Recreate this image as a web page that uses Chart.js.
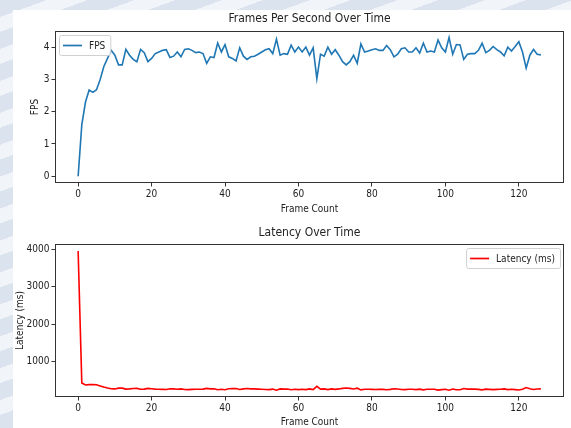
<!DOCTYPE html>
<html>
<head>
<meta charset="utf-8">
<script src="https://cdn.jsdelivr.net/npm/chart.js@4"></script>
<style>
  html, body { margin: 0; padding: 0; }
  body {
    width: 571px; height: 428px; overflow: hidden; position: relative;
    background: repeating-linear-gradient(160deg, #dbe4ee 0 16px, #f1f4f8 16px 30px);
  }
  #panel { position: absolute; left: 13px; top: 10px; width: 558px; height: 418px; background: #fff; }
  canvas { position: absolute; left: 0; }
  #fpsChart { top: 0; }
  #latChart { top: 204px; }
</style>
</head>
<body>
<div id="panel">
  <canvas id="fpsChart" width="558" height="204"></canvas>
  <canvas id="latChart" width="558" height="214"></canvas>
</div>
<script>
// frame 0..126
const fps = [
  0, 1.6, 2.3, 2.67, 2.6, 2.68, 3.0, 3.4, 3.65, 3.9,
  3.75, 3.45, 3.45, 3.93, 3.75, 3.62, 3.55, 3.93, 3.83, 3.55,
  3.65, 3.8, 3.85, 3.9, 3.92, 3.68, 3.72, 3.85, 3.7, 3.93,
  3.95, 3.9, 3.83, 3.85, 3.8, 3.5, 3.7, 3.68, 4.13, 3.85,
  4.08, 3.7, 3.65, 3.57, 3.98, 3.72, 3.62, 3.7, 3.72, 3.78,
  3.85, 3.92, 3.95, 3.8, 4.25, 3.75, 3.8, 3.78, 4.06, 3.85,
  4.0, 3.85, 4.0, 3.75, 3.98, 3.02, 3.78, 3.72, 4.0, 3.78,
  3.92, 3.75, 3.55, 3.45, 3.55, 3.75, 3.5, 4.1, 3.85, 3.88,
  3.92, 3.95, 3.9, 3.9, 4.05, 3.92, 3.7, 3.78, 3.95, 3.98,
  3.85, 3.85, 3.98, 3.82, 4.12, 3.85, 3.88, 3.85, 4.22, 3.98,
  3.85, 4.3, 3.78, 4.08, 4.07, 3.62, 3.78, 3.8, 3.8, 3.9,
  4.12, 3.83, 3.9, 4.02, 3.92, 3.85, 3.73, 4.0, 3.88, 4.02,
  4.17, 3.85, 3.35, 3.75, 3.93, 3.78, 3.76
];

const latency = [
  3950, 440, 385, 395, 395, 390, 360, 330, 305, 285,
  280, 300, 300, 275, 280, 290, 295, 270, 275, 295,
  285, 275, 270, 268, 265, 285, 280, 272, 282, 265,
  262, 268, 272, 270, 275, 295, 282, 285, 258, 272,
  258, 283, 288, 292, 265, 280, 290, 282, 280, 275,
  270, 265, 262, 275, 245, 280, 275, 278, 258, 272,
  262, 272, 262, 280, 262, 350, 275, 282, 262, 280,
  268, 280, 295, 305, 295, 280, 300, 255, 272, 270,
  268, 265, 270, 268, 258, 268, 285, 278, 265, 262,
  272, 272, 262, 275, 255, 272, 270, 272, 248, 262,
  272, 245, 278, 258, 258, 290, 275, 275, 275, 268,
  255, 275, 268, 260, 268, 272, 282, 262, 272, 262,
  252, 272, 315, 282, 265, 278, 280
];

const xTicks = [0, 20, 40, 60, 80, 100, 120];
const fpsTicks = [0, 1, 2, 3, 4];
const latTicks = [1000, 2000, 3000, 4000];

const FONT = '"DejaVu Sans Condensed", "DejaVu Sans", sans-serif';
Chart.defaults.font.family = FONT;
Chart.defaults.color = '#222';

// matplotlib style: title over the axes, box around axes, legend inside the plot
const frameLegend = {
  id: 'frameLegend',
  afterDatasetsDraw(chart, args, opts) {
    const ctx = chart.ctx, a = chart.chartArea;
    ctx.save();
    ctx.strokeStyle = '#333';
    ctx.lineWidth = 1;
    const l = Math.round(a.left) + 0.5, t = Math.round(a.top) + 0.5;
    const r = Math.round(a.right) - 0.5, b = Math.round(a.bottom) - 0.5;
    ctx.strokeRect(l, t, r - l, b - t);

    // title
    ctx.font = '12px ' + FONT;
    ctx.fillStyle = '#222';
    ctx.textAlign = 'center';
    ctx.textBaseline = 'middle';
    ctx.fillText(opts.title, (a.left + a.right) / 2, opts.titleY);

    const ds = chart.data.datasets[0];
    ctx.font = '10px ' + FONT;
    ctx.textAlign = 'left';
    const tw = ctx.measureText(ds.label).width;
    const w = 30 + tw + 5, h = 20;
    const x = opts.align === 'right' ? a.right - 4 - w : a.left + 4;
    const y = a.top + 4;
    ctx.beginPath();
    ctx.roundRect(x + 0.5, y + 0.5, w, h, 2);
    ctx.fillStyle = 'rgba(255,255,255,0.85)';
    ctx.fill();
    ctx.strokeStyle = '#d0d0d0';
    ctx.stroke();
    ctx.beginPath();
    ctx.moveTo(x + 4, y + h / 2 + 0.5);
    ctx.lineTo(x + 23, y + h / 2 + 0.5);
    ctx.strokeStyle = ds.borderColor;
    ctx.lineWidth = 1.7;
    ctx.stroke();
    ctx.fillStyle = '#222';
    ctx.fillText(ds.label, x + 30, y + h / 2 + 1);
    ctx.restore();
  }
};

function makeChart(id, cfg) {
  const pts = cfg.values.map((v, i) => ({x: i, y: v}));
  return new Chart(document.getElementById(id), {
    type: 'line',
    data: {
      datasets: [{
        label: cfg.label,
        data: pts,
        borderColor: cfg.color,
        borderWidth: 1.6,
        pointRadius: 0,
        tension: 0,
        fill: false
      }]
    },
    plugins: [frameLegend],
    options: {
      responsive: false,
      animation: false,
      devicePixelRatio: 1,
      layout: {padding: {left: 0, right: 7, top: cfg.top, bottom: 0}},
      plugins: {
        legend: {display: false},
        tooltip: {enabled: false},
        title: {display: false},
        frameLegend: {align: cfg.legendAlign, title: cfg.title, titleY: cfg.titleY}
      },
      scales: {
        x: {
          type: 'linear',
          min: -6.3,
          max: 132.3,
          afterFit: s => { s.height = 31; },
          afterBuildTicks: s => { s.ticks = xTicks.map(v => ({value: v})); },
          border: {display: false},
          grid: {drawOnChartArea: false, drawTicks: true, tickLength: 3.5, tickColor: '#333'},
          ticks: {font: {size: 10}, padding: 2, maxRotation: 0, color: '#222', callback: v => String(v)},
          title: {display: true, text: 'Frame Count', font: {size: 10, lineHeight: 1}, padding: {top: 0, bottom: cfg.xTitleBottom}, color: '#222'}
        },
        y: {
          min: cfg.yMin,
          max: cfg.yMax,
          afterFit: s => { s.width = 42; },
          afterBuildTicks: s => { s.ticks = cfg.yTicks.map(v => ({value: v})); },
          border: {display: false},
          grid: {drawOnChartArea: false, drawTicks: true, tickLength: 3.5, tickColor: '#333'},
          ticks: {font: {size: 10}, padding: 2, color: '#222', callback: v => String(v)},
          title: {display: true, text: cfg.yLabel, font: {size: 10, lineHeight: 1.2}, padding: {top: cfg.yTitleTop, bottom: 0}, color: '#222'}
        }
      }
    }
  });
}

makeChart('fpsChart', {
  values: fps, label: 'FPS', color: '#1f77b4',
  title: 'Frames Per Second Over Time', top: 21, titleY: 9,
  yMin: -0.21, yMax: 4.5, yTicks: fpsTicks, yLabel: 'FPS', yTitleTop: 16,
  legendAlign: 'left', xTitleBottom: 0
});

makeChart('latChart', {
  values: latency, label: 'Latency (ms)', color: '#ff0000',
  title: 'Latency Over Time', top: 30, titleY: 19,
  yMin: 65, yMax: 4135, yTicks: latTicks, yLabel: 'Latency (ms)', yTitleTop: 1,
  legendAlign: 'right', xTitleBottom: 0.5
});
</script>
</body>
</html>
